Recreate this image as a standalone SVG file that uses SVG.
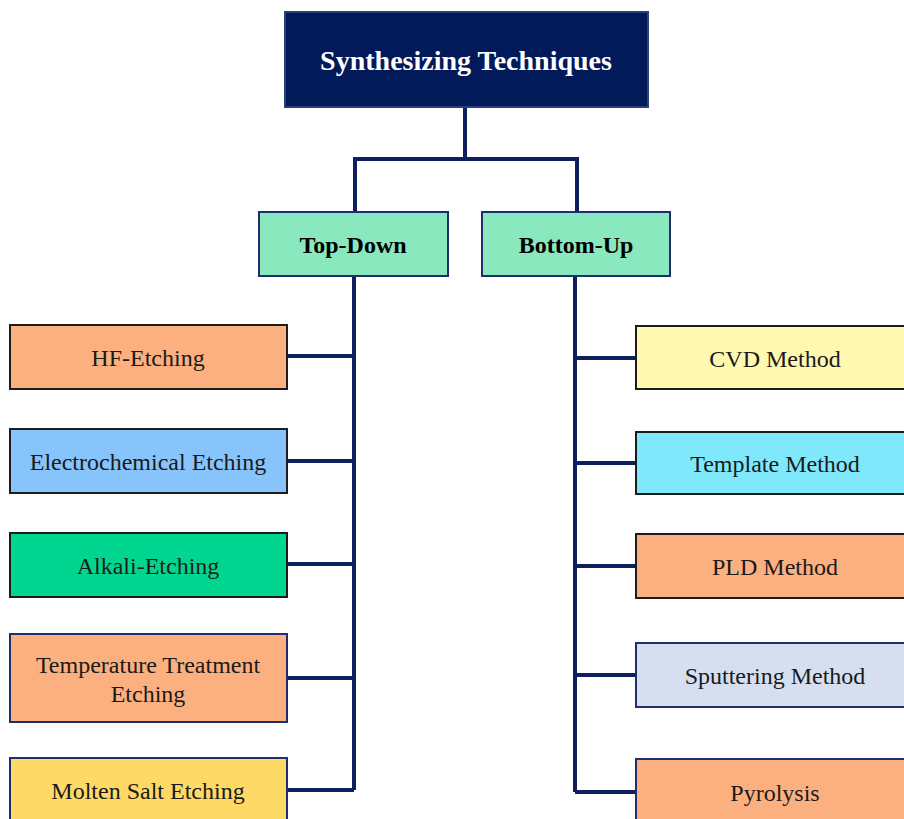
<svg xmlns="http://www.w3.org/2000/svg" width="904" height="819" viewBox="0 0 904 819">
<style>
.n{font-family:"Liberation Serif","Times New Roman",serif;font-size:24px;fill:#1a1a1a;text-anchor:middle}
.b{font-weight:bold;fill:#000}
.t{font-size:28px;fill:#ffffff}
.k{stroke:#1c1c1c;stroke-width:2}
.v{stroke:#1f2f6e;stroke-width:2}
.c{stroke:#0d1f5e;stroke-width:4;fill:none}
</style>
<rect width="904" height="819" fill="#ffffff"/>
<g id="connectors">
<path class="c" d="M465,107V159M355,212V159H577V212"/>
<path class="c" d="M354,276V790M287,356H354M287,461H354M287,564H354M287,678H354M287,790H354"/>
<path class="c" d="M575,276V792M575,358H636M575,463H636M575,566H636M575,675H636M575,792H636"/>
</g>
<g id="root"><rect x="285" y="12" width="363" height="95" fill="#031a5a" stroke="#27407e" stroke-width="2"/><text class="n b t" x="466" y="70">Synthesizing Techniques</text></g>
<g id="topdown"><rect x="259" y="212" width="189" height="64" fill="#8ae8bf" class="v"/><text class="n b" x="353" y="253">Top-Down</text></g>
<g id="bottomup"><rect x="482" y="212" width="188" height="64" fill="#8ae8bf" class="v"/><text class="n b" x="576" y="253">Bottom-Up</text></g>
<g id="hf"><rect x="10" y="325" width="277" height="64" fill="#fdb07f" class="k"/><text class="n" x="148" y="366">HF-Etching</text></g>
<g id="electro"><rect x="10" y="429" width="277" height="64" fill="#87c4fb" class="k"/><text class="n" x="148" y="470">Electrochemical Etching</text></g>
<g id="alkali"><rect x="10" y="533" width="277" height="64" fill="#00d68f" class="k"/><text class="n" x="148" y="574">Alkali-Etching</text></g>
<g id="temp"><rect x="10" y="634" width="277" height="88" fill="#fdb07f" class="v"/><text class="n" x="148" y="673">Temperature Treatment</text><text class="n" x="148" y="702">Etching</text></g>
<g id="molten"><rect x="10" y="758" width="277" height="80" fill="#ffd966" class="v"/><text class="n" x="148" y="799">Molten Salt Etching</text></g>
<g id="cvd"><rect x="636" y="326" width="278" height="63" fill="#fff8b0" class="k"/><text class="n" x="775" y="367">CVD Method</text></g>
<g id="template"><rect x="636" y="432" width="278" height="62" fill="#80e8fb" class="k"/><text class="n" x="775" y="472">Template Method</text></g>
<g id="pld"><rect x="636" y="534" width="278" height="64" fill="#fdb07f" class="k"/><text class="n" x="775" y="575">PLD Method</text></g>
<g id="sputter"><rect x="636" y="643" width="278" height="64" fill="#d6dff0" class="v"/><text class="n" x="775" y="684">Sputtering Method</text></g>
<g id="pyro"><rect x="636" y="759" width="278" height="80" fill="#fdb07f" class="v"/><text class="n" x="775" y="801">Pyrolysis</text></g>
</svg>
